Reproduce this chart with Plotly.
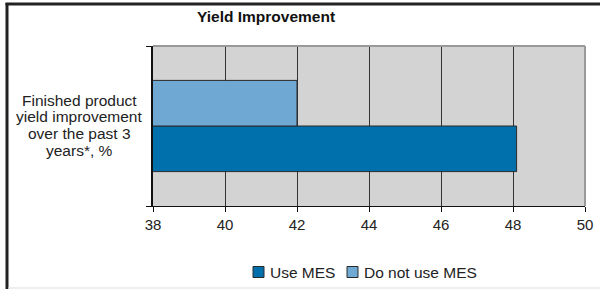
import plotly.graph_objects as go

category_lines = ["Finished product", "yield improvement", "over the past 3", "years*, %"]
categories = ["<br>".join(category_lines)]
series_names = ["Use MES", "Do not use MES"]
use_mes = [48.1]
no_mes = [42.0]
x_ticks = [38, 40, 42, 44, 46, 48, 50]
colors = ["#0070AC", "#6FA8D3"]

W, H = 600, 289
L, R, T, B = 153, 15, 46, 83
TXT = "#222222"
FONT = "Liberation Sans, Arial, sans-serif"

fig = go.Figure()
fig.add_trace(go.Bar(
    y=categories, x=use_mes, name=series_names[0], orientation="h",
    marker=dict(color=colors[0], line=dict(color="#2a2a2a", width=1)),
    base=0, showlegend=False,
))
fig.add_trace(go.Bar(
    y=categories, x=no_mes, name=series_names[1], orientation="h",
    marker=dict(color=colors[1], line=dict(color="#2a2a2a", width=1)),
    base=0, showlegend=False,
))

pw = W - L - R
ph = H - T - B
def px_x(p):
    return (p - L) / pw
def px_y(p):
    return (H - B - p) / ph

shapes = [
    dict(type="line", xref="paper", yref="paper", x0=px_x(7), x1=px_x(7), y0=px_y(3), y1=px_y(289),
         line=dict(color="#222222", width=3)),
    dict(type="line", xref="paper", yref="paper", x0=px_x(5.5), x1=px_x(600), y0=px_y(4), y1=px_y(4),
         line=dict(color="#222222", width=3)),
    dict(type="line", xref="paper", yref="paper", x0=px_x(8), x1=px_x(600), y0=px_y(288), y1=px_y(288),
         line=dict(color="#dddddd", width=1)),
    dict(type="line", xref="paper", yref="paper", x0=0, x1=1, y0=1, y1=1,
         line=dict(color="#999999", width=2)),
    dict(type="line", xref="paper", yref="paper", x0=1, x1=1, y0=0, y1=1,
         line=dict(color="#999999", width=2)),
]

legend_x = [253, 347]
legend_y = 272
for lx, name, col in zip(legend_x, series_names, colors):
    shapes.append(dict(type="rect", xref="paper", yref="paper",
                       x0=px_x(lx), x1=px_x(lx + 11), y0=px_y(legend_y + 5.5), y1=px_y(legend_y - 5.5),
                       fillcolor=col, line=dict(color="#2a2a2a", width=1)))
    fig.add_annotation(text=name, xref="paper", yref="paper", x=px_x(lx + 15), y=px_y(legend_y),
                       xanchor="left", yanchor="middle", showarrow=False,
                       font=dict(family=FONT, size=15.5, color=TXT))

fig.update_layout(
    width=W, height=H, autosize=False,
    margin=dict(l=L, r=R, t=T, b=B, pad=0, autoexpand=False),
    paper_bgcolor="white", plot_bgcolor="#D3D3D3",
    barmode="group", bargap=0.43, bargroupgap=0,
    font=dict(family=FONT, size=15, color=TXT),
    title=dict(text="<b>Yield Improvement</b>", xref="container", yref="container",
               x=266 / W, y=1 - 17 / H, xanchor="center", yanchor="middle",
               font=dict(family="Liberation Sans Narrow, Arial Narrow, Liberation Sans, sans-serif",
                         size=15.5, color="#111111")),
    xaxis=dict(range=[38, 50], tickvals=x_ticks, showgrid=True, gridcolor="#333333", gridwidth=1,
               showline=True, linecolor="#111111", linewidth=1, ticks="outside", ticklen=5,
               tickcolor="#111111", zeroline=False, tickfont=dict(size=15), fixedrange=True,
               automargin=False),
    yaxis=dict(range=[-0.5, 0.5], showline=True, linecolor="#111111", linewidth=1.5,
               ticks="outside", tickson="boundaries", ticklen=5, tickcolor="#111111",
               showticklabels=False, showgrid=False, fixedrange=True, automargin=False),
    showlegend=False,
    shapes=shapes,
)

line_y = [100, 116.7, 133.3, 150]
for txt, ly in zip(category_lines, line_y):
    fig.add_annotation(text=txt, xref="paper", yref="paper",
                       x=px_x(79), y=px_y(ly), xanchor="center", yanchor="middle",
                       showarrow=False, font=dict(size=15.5, color=TXT))

fig.write_html("out.html", config={"displayModeBar": False},
               post_script="document.body.style.margin='0';document.body.style.overflow='hidden';")
